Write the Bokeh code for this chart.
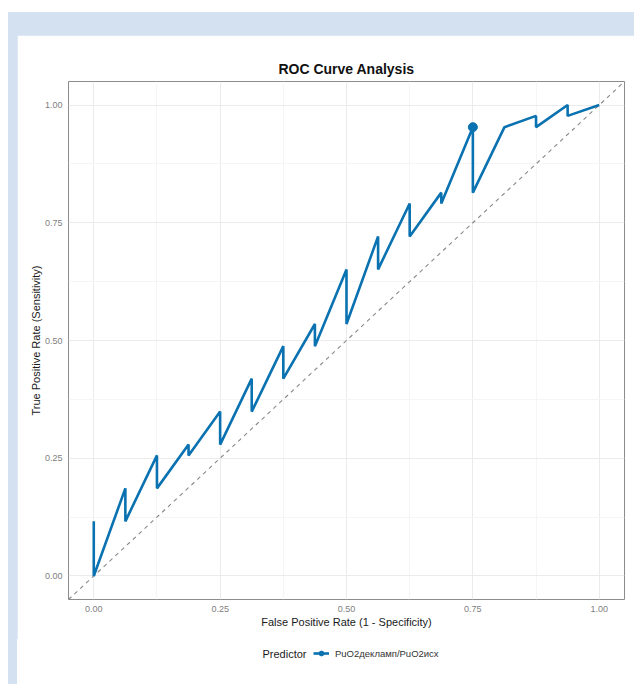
from bokeh.plotting import figure
from bokeh.models import (FixedTicker, Legend, LegendItem, Title, Range1d, Label)
from bokeh.layouts import column
from bokeh.embed import file_html
from bokeh.resources import INLINE

# ---- data ----
fpr = [0.0, 0.0, 0.0625, 0.0625, 0.125, 0.125, 0.1875, 0.1875, 0.25, 0.25,
       0.3125, 0.3125, 0.375, 0.375, 0.4375, 0.4375, 0.5, 0.5, 0.5625, 0.5625,
       0.625, 0.625, 0.6875, 0.6875, 0.75, 0.75, 0.8125, 0.875, 0.875,
       0.9375, 0.9375, 1.0]
tpr = [0.116, 0.0, 0.186, 0.116, 0.256, 0.186, 0.279, 0.256, 0.349, 0.279,
       0.419, 0.349, 0.488, 0.419, 0.535, 0.488, 0.651, 0.535, 0.721, 0.651,
       0.791, 0.721, 0.814, 0.791, 0.953, 0.814, 0.953, 0.977, 0.953,
       1.0, 0.977, 1.0]
best_fpr = [0.75]
best_tpr = [0.953]
diag = [-0.05, 1.05]
ticks = [0.0, 0.25, 0.5, 0.75, 1.0]
minor_ticks = [0.125, 0.375, 0.625, 0.875]
tick_labels = {0.0: "0.00", 0.25: "0.25", 0.5: "0.50", 0.75: "0.75", 1.0: "1.00"}
series_name = "PuO2деклaмп/PuO2исх"
legend_title = "Predictor"

FONT = "Liberation Sans"
BLUE = "#0a72b0"
FRAME_BLUE = "#d4e1f0"

# ---------------- main chart ----------------
p = figure(frame_width=556, frame_height=518,
           min_border_left=51, min_border_right=10,
           min_border_top=46, min_border_bottom=40,
           x_range=Range1d(-0.05, 1.05), y_range=Range1d(-0.05, 1.05),
           output_backend="svg", toolbar_location=None,
           background_fill_color="white", border_fill_color="white",
           outline_line_color="#8c8c8c", outline_line_width=1)

p.title = Title(text="ROC Curve Analysis", align="center",
                text_font=FONT, text_font_size="14px", text_font_style="bold",
                text_color="#111111", standoff=10)

for ax in (p.xaxis[0], p.yaxis[0]):
    ax.ticker = FixedTicker(ticks=ticks, minor_ticks=minor_ticks)
    ax.major_label_overrides = tick_labels
    ax.axis_line_color = None
    ax.major_tick_line_color = None
    ax.minor_tick_line_color = None
    ax.major_tick_out = 0
    ax.major_tick_in = 0
    ax.minor_tick_out = 0
    ax.minor_tick_in = 0
    ax.major_label_text_font = FONT
    ax.major_label_text_font_size = "9px"
    ax.major_label_text_color = "#808080"
    ax.major_label_standoff = 6
    ax.axis_label_text_font = FONT
    ax.axis_label_text_font_size = "11px"
    ax.axis_label_text_font_style = "normal"
    ax.axis_label_text_color = "#1a1a1a"

p.xaxis.axis_label = "False Positive Rate (1 - Specificity)"
p.yaxis.axis_label = "True Positive Rate (Sensitivity)"
p.xaxis.axis_label_standoff = 1
p.yaxis.axis_label_standoff = 0

p.grid.grid_line_color = "#ebebeb"
p.grid.grid_line_width = 1
p.grid.minor_grid_line_color = "#f5f5f5"
p.grid.minor_grid_line_width = 1

p.line(diag, diag, line_color="#888888", line_width=1.1, line_dash="4 4")
p.line(fpr, tpr, line_color=BLUE, line_width=2.6)
p.scatter(best_fpr, best_tpr, size=9, fill_color=BLUE, line_color=BLUE)

# ---------------- legend strip (frame aligned with the chart's frame) ----------------
lg = figure(width=617, height=45, min_border=0,
            x_axis_type=None, y_axis_type=None,
            x_range=Range1d(0, 1), y_range=Range1d(0, 1),
            output_backend="svg", toolbar_location=None,
            background_fill_color=None, border_fill_color=None,
            outline_line_color=None,
            styles={"background-color": "white",
                    "box-shadow": "-9px 0 0 0 " + FRAME_BLUE})
lg.grid.visible = False
# legend keys: same series, drawn outside this strip's visible range
key_line = lg.line(x=[v - 10 for v in fpr], y=tpr, line_color=BLUE, line_width=2.6)
key_pt = lg.scatter(x=[v - 10 for v in best_fpr], y=best_tpr, size=9,
                    fill_color=BLUE, line_color=BLUE)

legend = Legend(items=[LegendItem(label=series_name, renderers=[key_line, key_pt])],
                orientation="horizontal", location=(245, 25),
                label_text_font=FONT, label_text_font_size="9.5px",
                label_text_color="#333333", label_standoff=6,
                label_height=12, glyph_width=16, glyph_height=12,
                border_line_color=None, background_fill_color=None,
                margin=0, padding=0, spacing=4)
lg.add_layout(legend, "center")
lg.add_layout(Label(x=194, y=31, x_units="screen", y_units="screen",
                    text=legend_title, text_font=FONT, text_font_size="11px",
                    text_color="#1a1a1a", text_baseline="middle",
                    text_align="left"))

layout = column(p, lg, spacing=0,
                styles={"background-color": FRAME_BLUE,
                        "padding-top": "23px", "padding-left": "9px",
                        "margin-top": "12px", "margin-left": "8px"})

open("out.html", "w").write(file_html(layout, INLINE))
